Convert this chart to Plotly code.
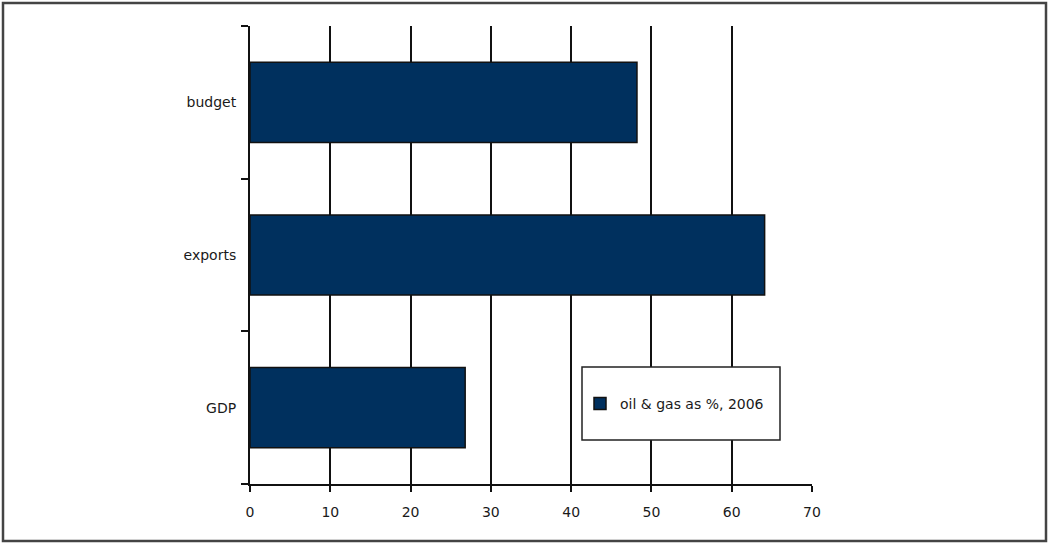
import plotly.graph_objects as go

# Oil & gas share, 2006 (percent)
categories = ["GDP", "exports", "budget"]
values = [26.8, 64.1, 48.2]
series_name = "oil & gas as %, 2006"
x_ticks = [0, 10, 20, 30, 40, 50, 60, 70]

BAR_COLOR = "#00305E"
FONT = "DejaVu Sans"
TEXT_COLOR = "#1a1a1a"

fig = go.Figure()
fig.add_trace(go.Bar(
    y=categories,
    x=values,
    orientation="h",
    name=series_name,
    marker=dict(color=BAR_COLOR, line=dict(color="#111111", width=1.5)),
    showlegend=True,
))

# plot-area geometry in pixels
W, H = 1049, 544
L, R, T, B = 250, 237, 26, 60
pw, ph = W - L - R, H - T - B


def px_x(p):
    return (p - L) / pw


def px_y(p):
    return (H - B - p) / ph


fig.update_layout(
    width=W, height=H,
    margin=dict(l=L, r=R, t=T, b=B, pad=0),
    paper_bgcolor="white",
    plot_bgcolor="white",
    font=dict(family=FONT, size=14, color=TEXT_COLOR),
    bargap=0.475,
    showlegend=True,
    legend=dict(
        x=px_x(580), y=px_y(404), xanchor="left", yanchor="middle",
        bgcolor="rgba(0,0,0,0)", borderwidth=0,
        font=dict(family=FONT, size=14, color=TEXT_COLOR),
        itemwidth=30,
    ),
    xaxis=dict(
        range=[0, 70], tickvals=x_ticks, ticktext=[str(v) for v in x_ticks],
        showgrid=True, gridcolor="#111111", gridwidth=1.5,
        zeroline=False,
        showline=True, linecolor="#111111", linewidth=2,
        ticks="outside", ticklen=6, tickwidth=1.5, tickcolor="#111111",
        ticklabelstandoff=8,
        fixedrange=True,
    ),
    yaxis=dict(
        type="category", categoryorder="array", categoryarray=categories,
        range=[-0.5, 2.5],
        showgrid=False, zeroline=False,
        showline=True, linecolor="#111111", linewidth=2,
        ticks="outside", tickson="boundaries", ticklen=7, tickwidth=1.5,
        tickcolor="#111111",
        ticklabelstandoff=9,
        fixedrange=True,
    ),
    shapes=[
        # legend box
        dict(type="rect", xref="paper", yref="paper",
             x0=px_x(582), x1=px_x(780), y0=px_y(440), y1=px_y(367),
             line=dict(color="#222222", width=1.5), fillcolor="white",
             layer="above"),
        # outer frame
        dict(type="rect", xref="paper", yref="paper",
             x0=px_x(3), x1=px_x(1046), y0=px_y(541), y1=px_y(3),
             line=dict(color="#444444", width=2.5), fillcolor="rgba(0,0,0,0)",
             layer="above"),
    ],
)

fig.write_html("out.html")
